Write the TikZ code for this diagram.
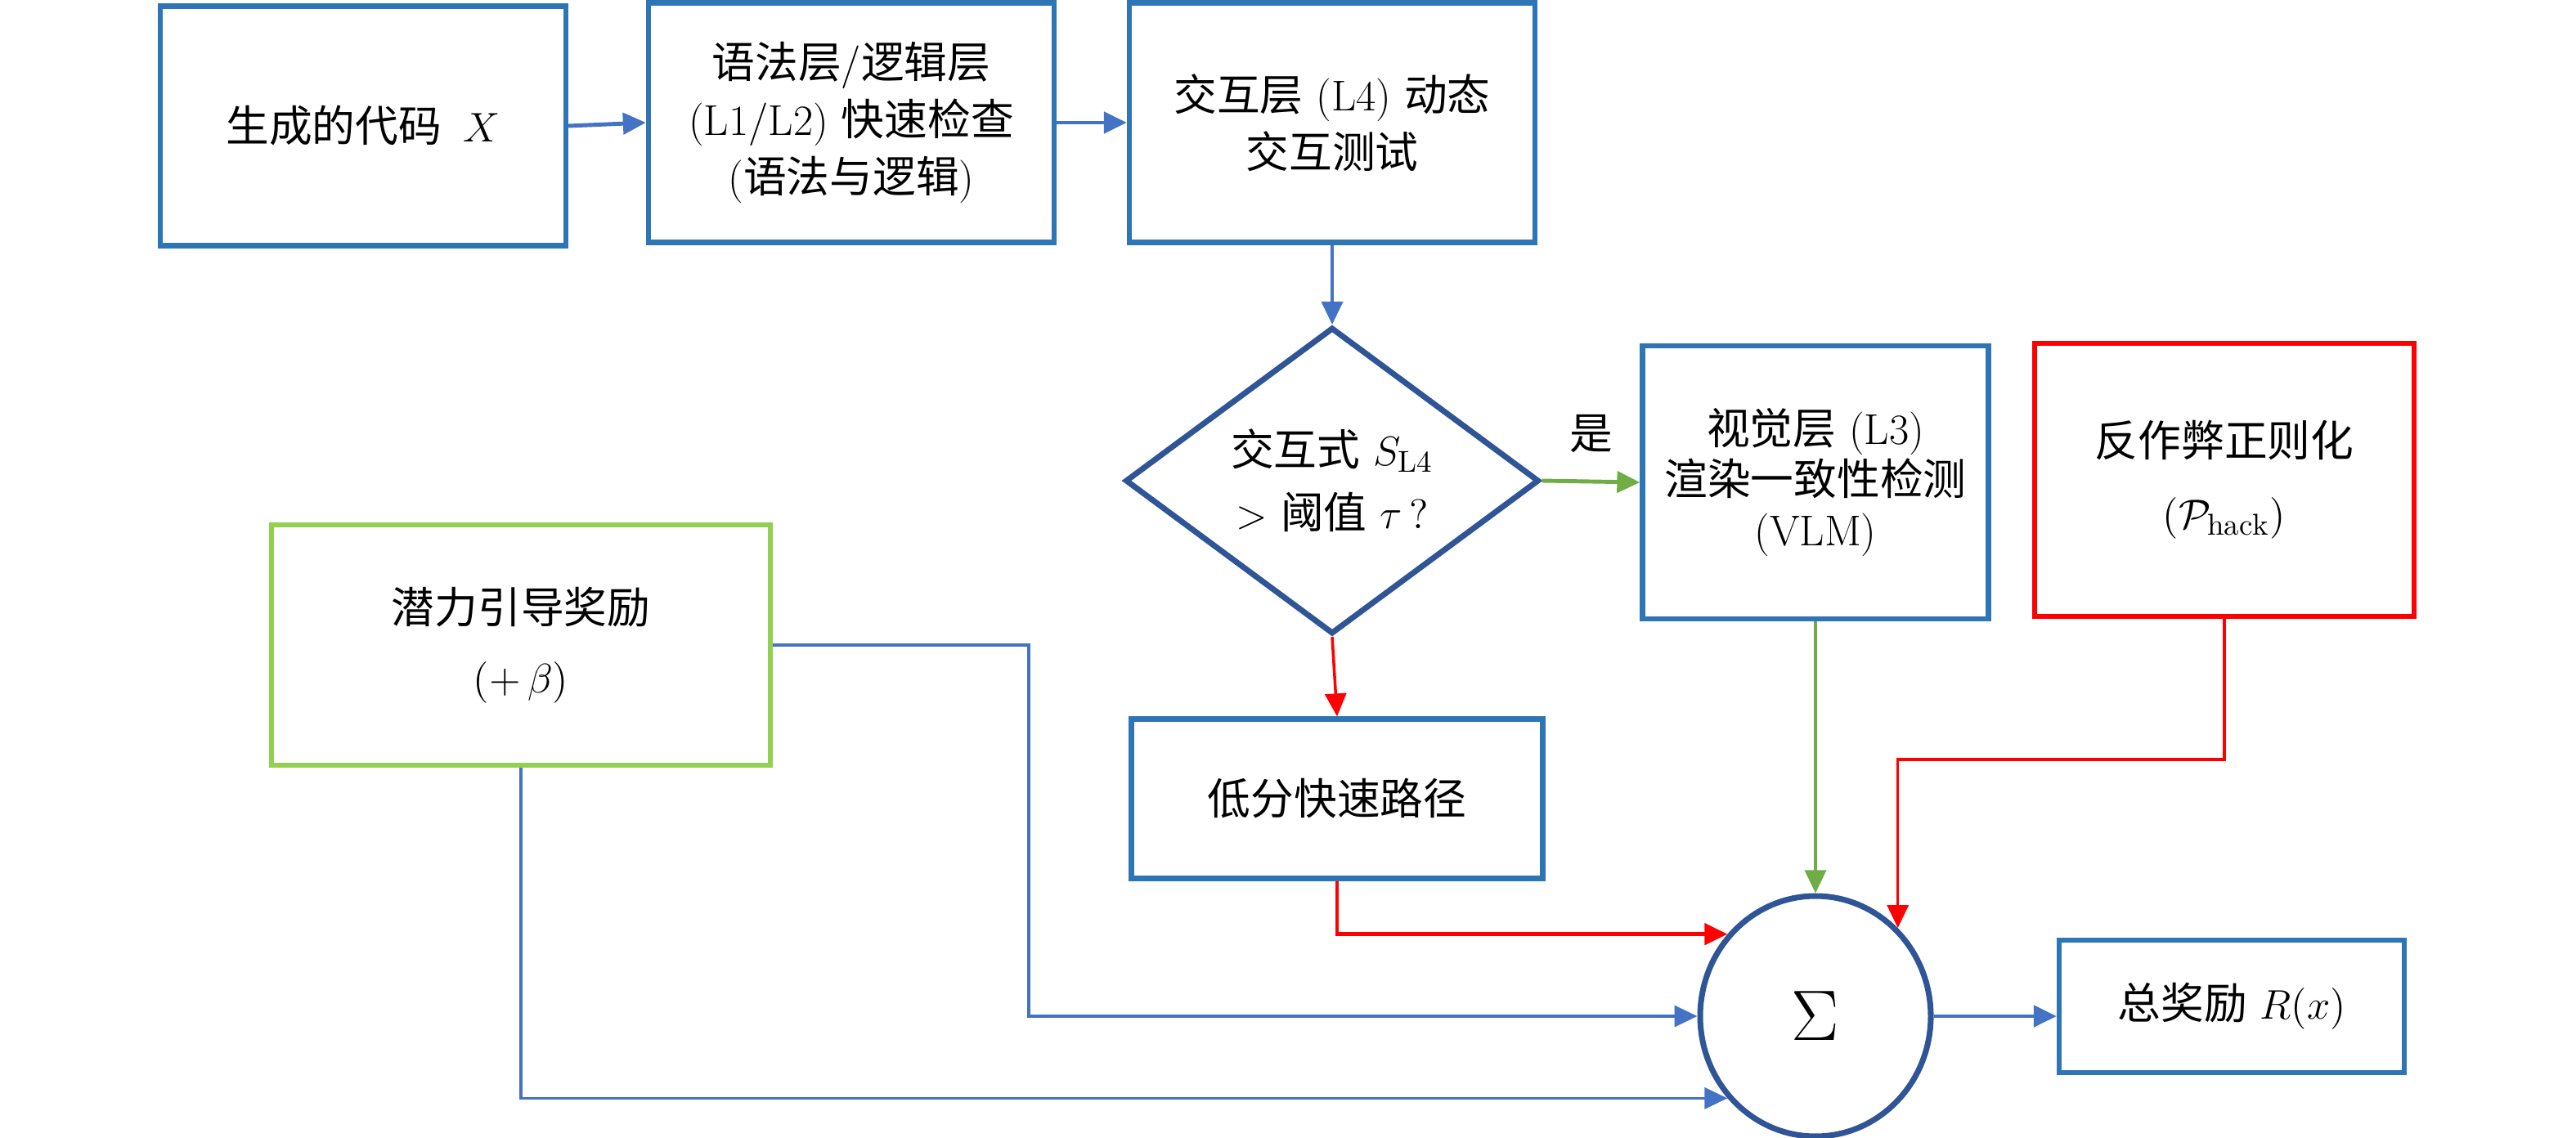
\documentclass[tikz,border=0pt]{standalone}
\usepackage{fontspec}
\newfontfamily\cjk{Noto Sans CJK SC}
\newcommand{\zh}[1]{{\cjk #1}}
\usetikzlibrary{shapes.geometric,arrows.meta}
\definecolor{boxblue}{HTML}{2E75B6}
\definecolor{darkblue}{HTML}{2F5597}
\definecolor{flowblue}{HTML}{4472C4}
\definecolor{bonusgreen}{HTML}{92D050}
\definecolor{passgreen}{HTML}{70AD47}
\definecolor{hackred}{HTML}{FF0000}

\begin{document}
\begin{tikzpicture}[
    every node/.style={font=\fontsize{15}{20}\selectfont, align=center},
    stage/.style={draw=boxblue, line width=1.8pt, inner sep=0pt},
    flow/.style={draw=flowblue, line width=1pt, -{Triangle[length=2.8mm,width=2.6mm]}},
    passflow/.style={flow, draw=passgreen, -{Triangle[length=2.8mm,width=2.6mm,fill=passgreen]}},
    failflow/.style={flow, draw=hackred, -{Triangle[length=2.8mm,width=2.6mm,fill=hackred]}}]
        \useasboundingbox (0,0) rectangle (31.5,-13.92);
        % Draw the checking stages.
        \node[stage, minimum width=4.96cm, minimum height=2.93cm] (code) at (4.44,-1.54) {\zh{生成的代码}\enspace$X$};
        \node[stage, minimum width=4.96cm, minimum height=2.93cm] (syntax) at (10.41,-1.50) {\zh{语法层}/\zh{逻辑层}\\(L1/L2) \zh{快速检查}\\(\zh{语法与逻辑})};
        \node[stage, minimum width=4.96cm, minimum height=2.93cm] (interact) at (16.29,-1.50) {\zh{交互层} (L4) \zh{动态}\\\zh{交互测试}};
        \node[diamond, draw=darkblue, line width=2pt, inner sep=0pt, minimum width=5.06cm, minimum height=3.75cm] (decide) at (16.29,-5.88) {\zh{交互式} $S_{\mathrm{L4}}$\\[2pt]$>$ \zh{阈值} $\tau\,?$};
        \node[stage, minimum width=4.23cm, minimum height=3.34cm, font=\fontsize{15}{17.5}\selectfont] (visual) at (22.20,-5.90) {\zh{视觉层} (L3)\\\zh{渲染一致性检测}\\(VLM)};
        \node[stage, minimum width=5.03cm, minimum height=1.95cm] (lowpath) at (16.35,-9.77) {\zh{低分快速路径}};
        % Draw the reward terms.
        \node[draw=hackred, line width=1.7pt, inner sep=0pt, minimum width=4.64cm, minimum height=3.34cm] (antihack) at (27.20,-5.87) {\zh{反作弊正则化}\\[5pt]$(\mathcal{P}_{\mathrm{hack}})$};
        \node[draw=bonusgreen, line width=1.8pt, inner sep=0pt, minimum width=6.10cm, minimum height=2.94cm] (potential) at (6.37,-7.89) {\zh{潜力引导奖励}\\[4pt]$(+\,\beta)$};
        \node[ellipse, draw=darkblue, line width=2pt, inner sep=0pt, minimum width=2.82cm, minimum height=2.94cm, font=\fontsize{30}{32}\selectfont] (sum) at (22.20,-12.43) {$\Sigma$};
        \node[stage, minimum width=4.22cm, minimum height=1.62cm] (total) at (27.29,-12.31) {\zh{总奖励} $R(x)$};
        % Connect the stages.
        \draw[flow, line width=1.4pt] (code.east) -- (syntax.west);
        \draw[flow, line width=1.4pt] (syntax.west -| syntax.east) -- (interact.west);
        \draw[flow] (interact.south) -- (decide.north);
        \draw[passflow, line width=1.4pt] (decide.east) -- node[above=6pt] {\zh{是}} (visual.west);
        \draw[failflow] (decide.south) -- (lowpath.north);
        % Collect everything in the sum.
        \draw[passflow] (visual.south) -- (sum.north);
        \draw[failflow, line width=1.4pt] (lowpath.south) |- (sum.137);
        \draw[failflow] (antihack.south) -- ++(0,-1.72) -| (sum.47);
        \draw[flow] (potential.east) -- ++(3.13,0) |- (sum.west);
        \draw[flow] (potential.south) |- (sum.223);
        \draw[flow, line width=1.4pt] (sum.east) -- (total.west |- sum.east);
\end{tikzpicture}
\end{document}
